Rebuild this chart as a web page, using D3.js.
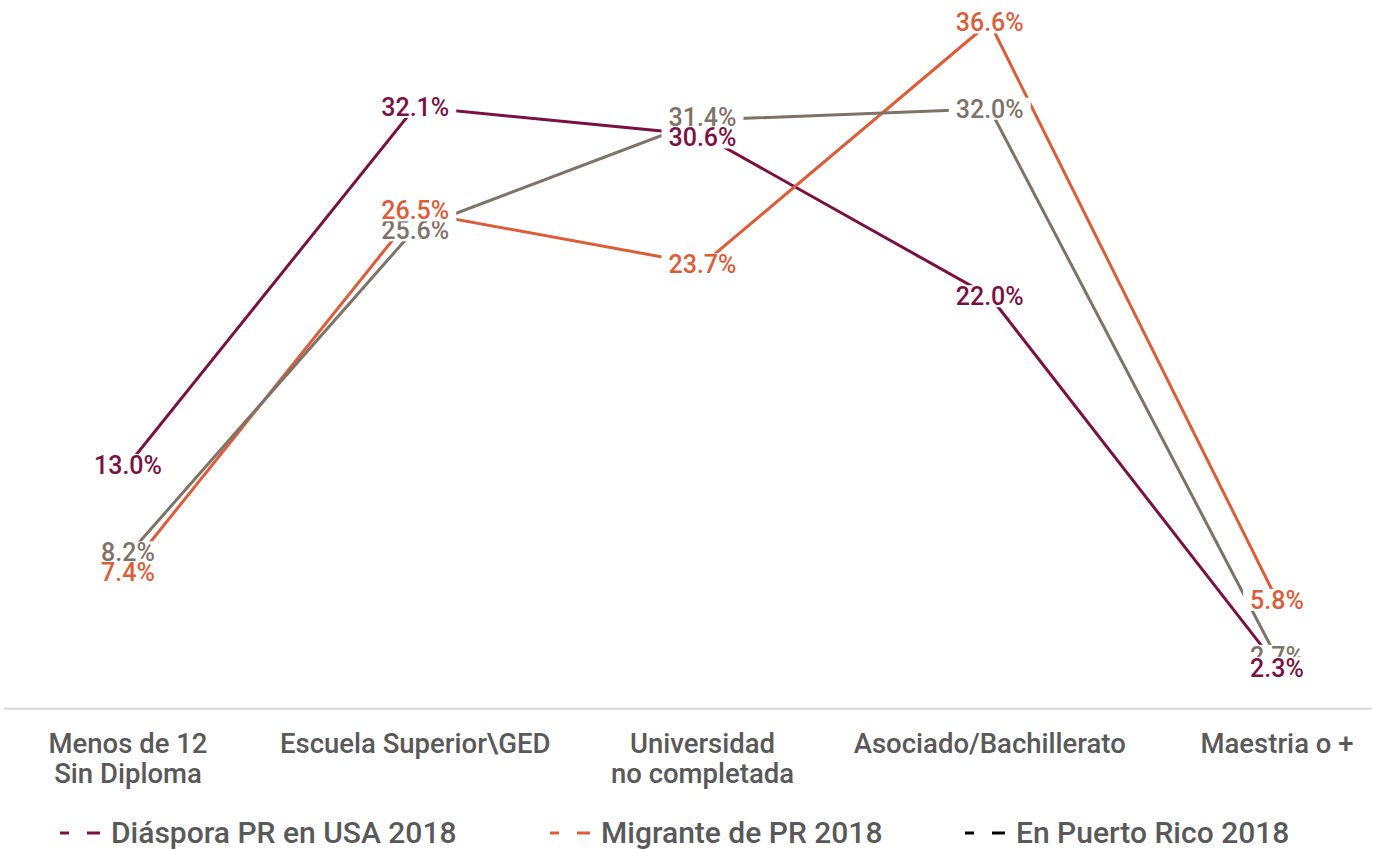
<!DOCTYPE html>
<html><head><meta charset="utf-8">
<script src="https://cdn.jsdelivr.net/npm/d3@7"></script>
<style>
html,body{margin:0;padding:0;background:#fff;}
svg{display:block;font-family:Roboto,"Noto Sans",sans-serif;}
</style></head>
<body><svg id="c" width="1373" height="849"></svg>
<script>
const categories = [["Menos de 12","Sin Diploma"],["Escuela Superior\\GED"],["Universidad","no completada"],["Asociado/Bachillerato"],["Maestria o +"]];
const seriesNames = ["Diáspora PR en USA 2018","Migrante de PR 2018","En Puerto Rico 2018"];
const diaspora = [13.0, 32.1, 30.6, 22.0, 2.3];
const migrante = [7.4, 26.5, 23.7, 36.6, 5.8];
const enPR = [8.2, 25.6, 31.4, 32.0, 2.7];
const colors = ["#7a1142", "#dc5d37", "#7f7266"];
const legendColors = ["#7a1142", "#dc5d37", "#000000"];

const series = [diaspora, migrante, enPR];
const svg = d3.select("#c");
const idx = d3.range(categories.length);
const x = d3.scalePoint().domain(idx).range([128, 1277]);
const y = d3.scaleLinear().domain([0, 37.8]).range([708.7, 0]);

// axis baseline
svg.append("line").attr("x1",4).attr("x2",1372).attr("y1",y(0)).attr("y2",y(0))
  .attr("stroke","#d9d9d9").attr("stroke-width",2);

// category labels
const catG = svg.append("g").attr("fill","#595959").attr("font-size",27.5).attr("font-weight",500).attr("text-anchor","middle");
idx.forEach(i=>{
  const t = catG.append("text");
  let w = 0;
  categories[i].forEach((ln,k)=>{
    const ts = t.append("tspan").attr("x", 0).attr("y", 753 + k*30).text(ln);
    w = Math.max(w, ts.node().getComputedTextLength());
  });
  const cx = Math.max(x(i), w/2 + 28);
  t.selectAll("tspan").attr("x", cx);
});

// lines
const line = d3.line().x((d,i)=>x(i)).y(d=>y(d));
series.forEach((s,si)=>{
  svg.append("path").datum(s).attr("d",line).attr("fill","none")
    .attr("stroke",colors[si]).attr("stroke-width",3);
});

// label centres, nudged apart when two labels of a category nearly collide
const labelPos = series.map(s=>s.map(v=>y(v)));
idx.forEach(i=>{
  for (let a=0;a<series.length;a++) for (let b=a+1;b<series.length;b++){
    const d = labelPos[b][i]-labelPos[a][i];
    const ad = Math.abs(d);
    const target = ad>10 ? 20 : 12;
    if (ad<target){
      const push = (target-ad)/2*Math.sign(d);
      labelPos[a][i] -= push; labelPos[b][i] += push;
    }
  }
});

// labels (gray first, then orange, then maroon on top)
[2,1,0].forEach(si=>{
  const g = svg.append("g");
  series[si].forEach((v,i)=>{
    const cx = x(i), cy = labelPos[si][i];
    const lg = g.append("g");
    const r = lg.append("rect").attr("fill","#fff");
    const t = lg.append("text").attr("x",cx).attr("y",cy+9).attr("text-anchor","middle")
      .attr("font-size",25).attr("font-weight",500).attr("fill",colors[si]).text(v.toFixed(1)+"%");
    const w = t.node().getComputedTextLength();
    r.attr("x",cx-w/2-7).attr("y",cy-11).attr("width",w+14).attr("height",22);
  });
});

// legend
const legX = [60, 550, 965];
const legG = svg.append("g");
seriesNames.forEach((n,si)=>{
  const lx = legX[si];
  legG.append("line").attr("x1",lx).attr("x2",lx+9).attr("y1",833).attr("y2",833)
    .attr("stroke",legendColors[si]).attr("stroke-width",3);
  legG.append("line").attr("x1",lx+27).attr("x2",lx+40).attr("y1",833).attr("y2",833)
    .attr("stroke",legendColors[si]).attr("stroke-width",3);
  legG.append("text").attr("x",lx+51).attr("y",843).attr("font-size",30).attr("font-weight",500).attr("fill","#595959").text(n);
});
</script></body></html>
